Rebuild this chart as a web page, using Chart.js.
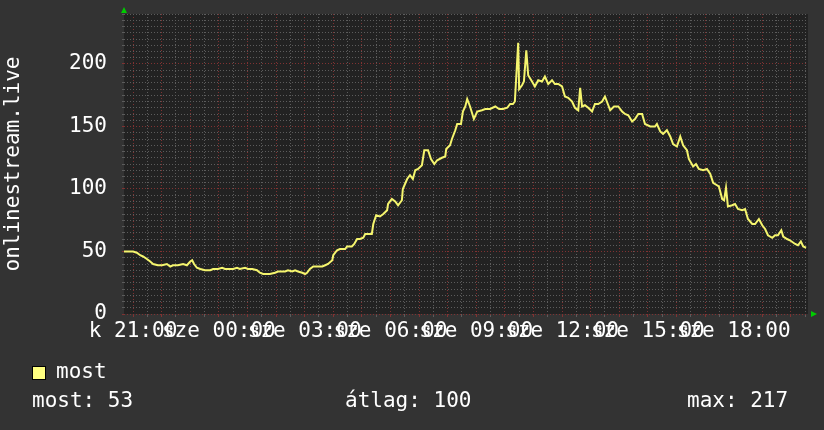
<!DOCTYPE html>
<html>
<head>
<meta charset="utf-8">
<script src="https://cdn.jsdelivr.net/npm/chart.js@4.4.0/dist/chart.umd.min.js"></script>
<style>
  html, body { margin: 0; padding: 0; background: #333333; }
  canvas { display: block; }
</style>
</head>
<body>
<canvas id="viewerChart" width="824" height="430"></canvas>
<script>
// DATA - minutes after k 21:00, viewers
const timeMin = [
  -19, 0, 8, 15, 21, 29, 36, 42, 52, 61, 71, 78, 84, 94, 105, 113, 120, 124, 128, 134, 141, 151, 162, 168, 178, 187, 193, 199, 210, 218, 224, 235,
  241, 250, 260, 266, 273, 287, 298, 304, 313, 319, 325, 334, 340, 346, 355, 361, 365, 371, 378, 386, 397, 403, 409, 418, 420, 428, 434, 445, 449, 459, 464, 470, 476, 483, 487, 501,
  504, 510, 518, 525, 533, 535, 543, 550, 556, 564, 566, 575, 581, 587, 592, 598, 606, 611, 619, 625, 632, 638, 648, 655, 657, 665, 669, 676, 680, 688, 692, 697, 701, 707, 715, 722, 732, 739, 749, 760, 768,
  776, 785, 791, 797, 801, 808, 810, 816, 820, 825, 829, 837, 843, 850, 858, 864, 871, 879, 885, 892, 900, 906, 913, 921, 927, 934, 938, 942, 948, 955, 963, 969, 976, 984, 990, 997,
  1001, 1009, 1018, 1026, 1032, 1039, 1047, 1053, 1060, 1068, 1074, 1085, 1095, 1099, 1106, 1112, 1120, 1127, 1133, 1141, 1148, 1154, 1162, 1166, 1175, 1181, 1187, 1196, 1204, 1211,
  1217, 1225, 1229, 1236, 1240, 1244, 1248, 1257, 1263, 1269, 1278, 1284, 1290, 1299, 1305, 1313, 1320, 1326, 1332, 1341, 1347, 1353, 1360, 1364, 1372, 1378, 1389, 1395, 1401, 1406, 1412
];
const viewers = [
  50, 50, 49, 47, 46, 44, 42, 40, 39, 39, 40, 38, 39, 39, 40, 39, 42, 43, 40, 37, 36, 35, 35, 36, 36, 37, 36, 36, 36, 37, 36, 37,
  36, 36, 35, 33, 32, 32, 33, 34, 34, 34, 35, 34, 35, 34, 33, 32, 33, 36, 38, 38, 38, 39, 40, 43, 47, 51, 52, 52, 54, 54, 56, 60, 60, 61, 64, 64,
  72, 79, 78, 80, 83, 88, 92, 90, 87, 91, 100, 108, 111, 108, 115, 116, 119, 131, 131, 124, 120, 123, 125, 126, 132, 135, 140, 147, 152, 152, 162, 166, 172, 166, 156, 162, 163, 164, 164, 166, 164,
  164, 165, 168, 168, 170, 217, 180, 183, 186, 211, 191, 186, 182, 187, 186, 190, 184, 187, 184, 184, 182, 174, 173, 170, 165, 163, 181, 166, 167, 165, 162, 168, 168, 170, 174, 167,
  163, 166, 166, 162, 160, 159, 154, 156, 160, 160, 152, 150, 150, 152, 146, 144, 147, 142, 136, 134, 142, 135, 131, 124, 118, 120, 116, 115, 116, 112,
  105, 103, 102, 92, 91, 101, 86, 87, 88, 84, 83, 84, 76, 72, 72, 76, 71, 68, 63, 61, 63, 63, 67, 62, 60, 59, 56, 55, 58, 54, 53
];

// x labels every 3 hours, starting at 21:00
const xLabels = ['k 21:00', 'sze 00:00', 'sze 03:00', 'sze 06:00', 'sze 09:00', 'sze 12:00', 'sze 15:00', 'sze 18:00'];
const yLabels = [0, 50, 100, 150, 200];
const seriesName = 'most';
const statLabels = ['most: 53', 'átlag: 100', 'max: 217'];

const FONT = 'DejaVu Sans Mono';
const RED = '#803232';
const GRAY = '#5c5c5c';

const xTicks = [];
for (let m = 0; m <= 1410; m += 30) xTicks.push(m);
const yTicks = [];
for (let v = 0; v <= 240; v += 5) yTicks.push(v);

const points = timeMin.map((t, i) => ({ x: t, y: viewers[i] }));

// background, arrows, legend and gprint lines
const rrdExtras = {
  id: 'rrdExtras',
  beforeDraw(chart) {
    const { ctx, chartArea } = chart;
    ctx.save();
    ctx.fillStyle = '#333333';
    ctx.fillRect(0, 0, chart.width, chart.height);
    ctx.fillStyle = '#222222';
    ctx.fillRect(chartArea.left, chartArea.top, chartArea.right - chartArea.left, chartArea.bottom - chartArea.top);
    ctx.restore();
  },
  afterDraw(chart) {
    const { ctx, chartArea } = chart;
    ctx.save();
    ctx.fillStyle = '#00cc00';
    ctx.beginPath();
    ctx.moveTo(chartArea.left - 3, chartArea.top - 1);
    ctx.lineTo(chartArea.left + 3, chartArea.top - 1);
    ctx.lineTo(chartArea.left, chartArea.top - 7);
    ctx.fill();
    ctx.beginPath();
    ctx.moveTo(chartArea.right + 3, chartArea.bottom - 3);
    ctx.lineTo(chartArea.right + 3, chartArea.bottom + 3);
    ctx.lineTo(chartArea.right + 9, chartArea.bottom);
    ctx.fill();

    ctx.fillStyle = '#ffff80';
    ctx.fillRect(32, 366, 14, 14);
    ctx.strokeStyle = '#000000';
    ctx.lineWidth = 1;
    ctx.strokeRect(32.5, 366.5, 13, 13);

    ctx.fillStyle = '#ffffff';
    ctx.font = '21px "' + FONT + '"';
    ctx.textBaseline = 'middle';
    ctx.fillText(seriesName, 56, 373);
    ctx.fillText(statLabels[0], 32, 402);
    ctx.fillText(statLabels[1], 345, 402);
    ctx.fillText(statLabels[2], 687, 402);
    ctx.restore();
  }
};

const createChart = () => {
  const canvas = document.getElementById('viewerChart');
  new Chart(canvas, {
    type: 'line',
    data: {
      datasets: [{
        label: seriesName,
        data: points,
        borderColor: '#f5f56e',
        borderWidth: 2,
        pointRadius: 0,
        tension: 0,
        fill: false
      }]
    },
    options: {
      responsive: false,
      animation: false,
      devicePixelRatio: 1,
      layout: { padding: { left: 0, top: 14, right: 16, bottom: 0 } },
      plugins: { legend: { display: false }, tooltip: { enabled: false } },
      scales: {
        x: {
          type: 'linear',
          min: -19,
          max: 1416,
          afterBuildTicks: s => { s.ticks = xTicks.map(v => ({ value: v })); },
          afterFit: s => { s.height = 116; s.paddingLeft = 0; s.paddingRight = 0; },
          ticks: {
            autoSkip: false,
            maxRotation: 0,
            minRotation: 0,
            padding: 2,
            color: '#ffffff',
            font: { family: FONT, size: 21 },
            callback: v => (v % 180 === 0 ? xLabels[v / 180] : '')
          },
          grid: {
            color: c => (c.tick && c.tick.value % 60 === 0 ? RED : GRAY),
            tickLength: 3
          },
          border: { display: false, dash: [1, 2] }
        },
        y: {
          min: 0,
          max: 240,
          afterBuildTicks: s => { s.ticks = yTicks.map(v => ({ value: v })); },
          afterFit: s => { s.width = 124; s.paddingTop = 0; s.paddingBottom = 0; },
          ticks: {
            autoSkip: false,
            padding: 15,
            color: '#ffffff',
            font: { family: FONT, size: 21 },
            callback: v => (yLabels.includes(v) ? String(v) : '')
          },
          grid: {
            color: c => (c.tick && c.tick.value % 50 === 0 ? RED : GRAY),
            tickLength: 2
          },
          border: { display: false, dash: [1, 2] },
          title: {
            display: true,
            text: 'onlinestream.live',
            color: '#ffffff',
            font: { family: FONT, size: 21 },
            padding: { top: 1, bottom: 0 }
          }
        }
      }
    },
    plugins: [rrdExtras]
  });
};

window.addEventListener('load', createChart);
</script>
</body>
</html>
